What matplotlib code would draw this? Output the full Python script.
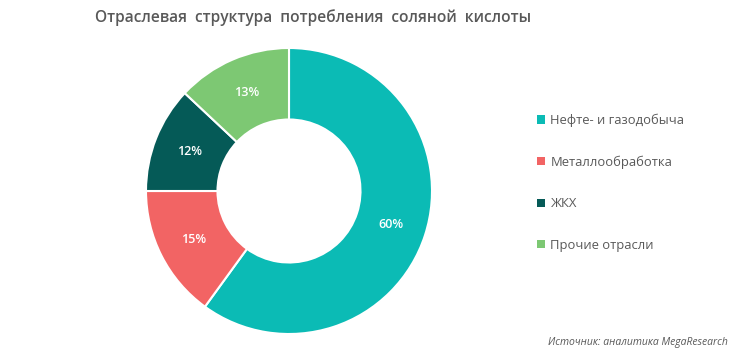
import matplotlib.pyplot as plt
from matplotlib.patches import Patch
import numpy as np

plt.rcParams['font.family'] = ['Open Sans', 'DejaVu Sans']

# данные
labels = ['Нефте- и газодобыча', 'Металлообработка', 'ЖКХ', 'Прочие отрасли']
shares = [60, 15, 12, 13]
colors = ['#0BBBB5', '#F26464', '#055A57', '#7DC873']

fig = plt.figure(figsize=(7.5, 3.64), dpi=100)
ax = fig.add_axes([146/750, 30/364, 286/750, 286/364])

wedges, _ = ax.pie(shares, colors=colors, startangle=90, counterclock=False,
                   radius=1.0, wedgeprops=dict(width=0.5, edgecolor='white', linewidth=1.5))
ax.set_aspect('equal')
ax.set_xlim(-1, 1)
ax.set_ylim(-1, 1)

for w, s in zip(wedges, shares):
    mid = np.deg2rad((w.theta1 + w.theta2) / 2)
    r = 0.75
    ax.text(r*np.cos(mid), r*np.sin(mid), f'{s}%', ha='center', va='center',
            color='white', fontsize=9, fontweight='semibold')

fig.text(313/750, 1 - 18/364, 'Отраслевая  структура  потребления  соляной  кислоты',
         ha='center', va='center', fontsize=11.2, fontweight='semibold', color='#595959')

handles = [Patch(facecolor=c, edgecolor='none') for c in colors]
fig.legend(handles, labels, loc='upper left', bbox_to_anchor=(525/750, 1 - 102/364),
           frameon=False, fontsize=9.4, labelspacing=2.18, handlelength=0.6, handleheight=0.6,
           handletextpad=0.45, labelcolor='#595959')

fig.text(728/750, 1 - 343/364, 'Источник: аналитика MegaResearch', ha='right', va='center',
         fontsize=7.5, style='italic', color='#595959')

fig.savefig('out.png', dpi=100, facecolor='white')
